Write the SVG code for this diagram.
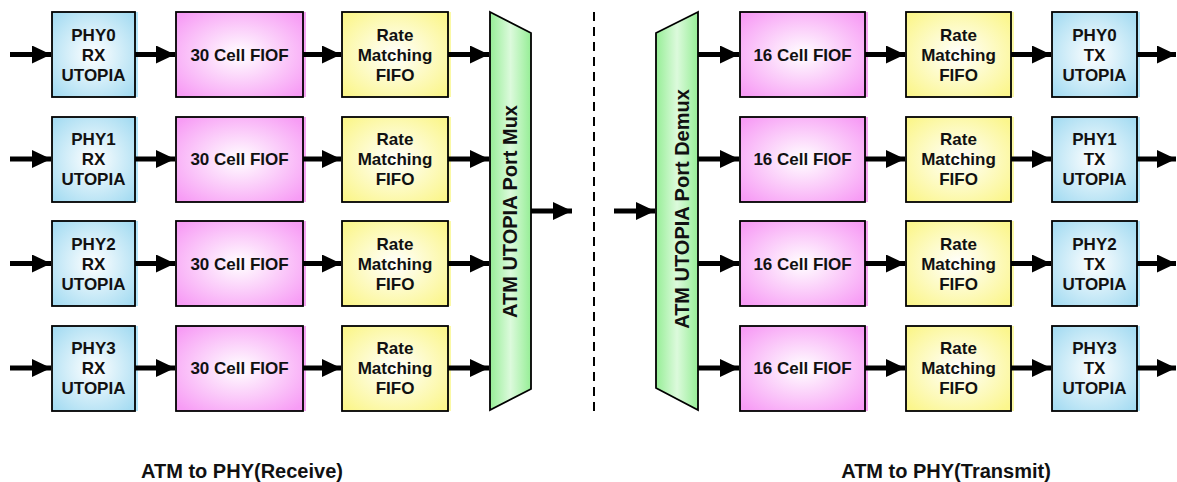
<svg xmlns="http://www.w3.org/2000/svg" width="1177" height="482" viewBox="0 0 1177 482">
<style>
  text { font-family: "Liberation Sans", Arial, sans-serif; font-weight: bold; fill: #111; }
  .bt { font-size: 17px; text-anchor: middle; }
  .tt { font-size: 20px; text-anchor: middle; }
  .box { stroke: #000; stroke-width: 1.8; }
  .blue { fill: url(#gBlue); }
  .pink { fill: url(#gPink); }
  .yel { fill: url(#gYel); }
  .sBlue { fill: #b5e6fb; }
  .sPink { fill: #f7a6f4; }
  .sYel { fill: #fbf9a6; }
  .mux { fill: url(#gGreen); stroke: #000; stroke-width: 1.8; }
  .conn { stroke: #000; stroke-width: 5; fill: none; marker-end: url(#ah); }
  .dash { stroke: #000; stroke-width: 2; stroke-dasharray: 9 6; fill: none; }
</style>
<defs>
  <radialGradient id="gBlue" cx="50%" cy="50%" r="65%">
    <stop offset="0" stop-color="#ffffff"/>
    <stop offset="1" stop-color="#a6dcf2"/>
  </radialGradient>
  <radialGradient id="gPink" cx="50%" cy="50%" r="65%">
    <stop offset="0" stop-color="#ffffff"/>
    <stop offset="1" stop-color="#f79cf5"/>
  </radialGradient>
  <radialGradient id="gYel" cx="50%" cy="50%" r="65%">
    <stop offset="0" stop-color="#ffffff"/>
    <stop offset="1" stop-color="#fbf68c"/>
  </radialGradient>
  <linearGradient id="gGreen" x1="0" y1="0" x2="1" y2="0">
    <stop offset="0" stop-color="#96ee96"/>
    <stop offset="0.5" stop-color="#dcfadc"/>
    <stop offset="1" stop-color="#96ee96"/>
  </linearGradient>
  <marker id="ah" markerUnits="userSpaceOnUse" markerWidth="20" markerHeight="18" refX="19" refY="9" orient="auto">
    <path d="M0,0 L19,9 L0,18 Z" fill="#000"/>
  </marker>
</defs>

<!-- Receive side -->
<g id="rx0-phy"><rect class="sBlue" x="55" y="12" width="83" height="85"/><rect class="box blue" x="52" y="12" width="83" height="85"/><text class="bt" x="93.5" y="40.5">PHY0</text><text class="bt" x="93.5" y="60.5">RX</text><text class="bt" x="93.5" y="80.5">UTOPIA</text></g>
<g id="rx0-fifo"><rect class="sPink" x="179" y="12" width="127" height="85"/><rect class="box pink" x="176" y="12" width="127" height="85"/><text class="bt" x="239.5" y="60.5">30 Cell FIOF</text></g>
<g id="rx0-rate"><rect class="sYel" x="345" y="12" width="106" height="85"/><rect class="box yel" x="342" y="12" width="106" height="85"/><text class="bt" x="395" y="40.5">Rate</text><text class="bt" x="395" y="60.5">Matching</text><text class="bt" x="395" y="80.5">FIFO</text></g>

<g id="rx1-phy"><rect class="sBlue" x="55" y="117" width="83" height="85"/><rect class="box blue" x="52" y="117" width="83" height="85"/><text class="bt" x="93.5" y="145">PHY1</text><text class="bt" x="93.5" y="165">RX</text><text class="bt" x="93.5" y="185">UTOPIA</text></g>
<g id="rx1-fifo"><rect class="sPink" x="179" y="117" width="127" height="85"/><rect class="box pink" x="176" y="117" width="127" height="85"/><text class="bt" x="239.5" y="165">30 Cell FIOF</text></g>
<g id="rx1-rate"><rect class="sYel" x="345" y="117" width="106" height="85"/><rect class="box yel" x="342" y="117" width="106" height="85"/><text class="bt" x="395" y="145">Rate</text><text class="bt" x="395" y="165">Matching</text><text class="bt" x="395" y="185">FIFO</text></g>

<g id="rx2-phy"><rect class="sBlue" x="55" y="221" width="83" height="85"/><rect class="box blue" x="52" y="221" width="83" height="85"/><text class="bt" x="93.5" y="249.5">PHY2</text><text class="bt" x="93.5" y="269.5">RX</text><text class="bt" x="93.5" y="289.5">UTOPIA</text></g>
<g id="rx2-fifo"><rect class="sPink" x="179" y="221" width="127" height="85"/><rect class="box pink" x="176" y="221" width="127" height="85"/><text class="bt" x="239.5" y="269.5">30 Cell FIOF</text></g>
<g id="rx2-rate"><rect class="sYel" x="345" y="221" width="106" height="85"/><rect class="box yel" x="342" y="221" width="106" height="85"/><text class="bt" x="395" y="249.5">Rate</text><text class="bt" x="395" y="269.5">Matching</text><text class="bt" x="395" y="289.5">FIFO</text></g>

<g id="rx3-phy"><rect class="sBlue" x="55" y="326" width="83" height="85"/><rect class="box blue" x="52" y="326" width="83" height="85"/><text class="bt" x="93.5" y="354">PHY3</text><text class="bt" x="93.5" y="374">RX</text><text class="bt" x="93.5" y="394">UTOPIA</text></g>
<g id="rx3-fifo"><rect class="sPink" x="179" y="326" width="127" height="85"/><rect class="box pink" x="176" y="326" width="127" height="85"/><text class="bt" x="239.5" y="374">30 Cell FIOF</text></g>
<g id="rx3-rate"><rect class="sYel" x="345" y="326" width="106" height="85"/><rect class="box yel" x="342" y="326" width="106" height="85"/><text class="bt" x="395" y="354">Rate</text><text class="bt" x="395" y="374">Matching</text><text class="bt" x="395" y="394">FIFO</text></g>

<g id="mux"><polygon class="mux" points="490,12 531,33 531,389 490,410"/><text class="tt" transform="translate(517,211.5) rotate(-90)" x="0" y="0">ATM UTOPIA Port Mux</text></g>

<!-- Transmit side -->
<g id="demux"><polygon class="mux" points="698,12 656,33 656,388 698,410"/><text class="tt" transform="translate(689,209) rotate(-90)" x="0" y="0">ATM UTOPIA Port Demux</text></g>

<g id="tx0-fifo"><rect class="sPink" x="743" y="12" width="125" height="85"/><rect class="box pink" x="740" y="12" width="125" height="85"/><text class="bt" x="802.5" y="60.5">16 Cell FIOF</text></g>
<g id="tx0-rate"><rect class="sYel" x="909" y="12" width="105" height="85"/><rect class="box yel" x="906" y="12" width="105" height="85"/><text class="bt" x="958.5" y="40.5">Rate</text><text class="bt" x="958.5" y="60.5">Matching</text><text class="bt" x="958.5" y="80.5">FIFO</text></g>
<g id="tx0-phy"><rect class="sBlue" x="1055" y="12" width="85" height="85"/><rect class="box blue" x="1052" y="12" width="85" height="85"/><text class="bt" x="1094.5" y="40.5">PHY0</text><text class="bt" x="1094.5" y="60.5">TX</text><text class="bt" x="1094.5" y="80.5">UTOPIA</text></g>

<g id="tx1-fifo"><rect class="sPink" x="743" y="117" width="125" height="85"/><rect class="box pink" x="740" y="117" width="125" height="85"/><text class="bt" x="802.5" y="165">16 Cell FIOF</text></g>
<g id="tx1-rate"><rect class="sYel" x="909" y="117" width="105" height="85"/><rect class="box yel" x="906" y="117" width="105" height="85"/><text class="bt" x="958.5" y="145">Rate</text><text class="bt" x="958.5" y="165">Matching</text><text class="bt" x="958.5" y="185">FIFO</text></g>
<g id="tx1-phy"><rect class="sBlue" x="1055" y="117" width="85" height="85"/><rect class="box blue" x="1052" y="117" width="85" height="85"/><text class="bt" x="1094.5" y="145">PHY1</text><text class="bt" x="1094.5" y="165">TX</text><text class="bt" x="1094.5" y="185">UTOPIA</text></g>

<g id="tx2-fifo"><rect class="sPink" x="743" y="221" width="125" height="85"/><rect class="box pink" x="740" y="221" width="125" height="85"/><text class="bt" x="802.5" y="269.5">16 Cell FIOF</text></g>
<g id="tx2-rate"><rect class="sYel" x="909" y="221" width="105" height="85"/><rect class="box yel" x="906" y="221" width="105" height="85"/><text class="bt" x="958.5" y="249.5">Rate</text><text class="bt" x="958.5" y="269.5">Matching</text><text class="bt" x="958.5" y="289.5">FIFO</text></g>
<g id="tx2-phy"><rect class="sBlue" x="1055" y="221" width="85" height="85"/><rect class="box blue" x="1052" y="221" width="85" height="85"/><text class="bt" x="1094.5" y="249.5">PHY2</text><text class="bt" x="1094.5" y="269.5">TX</text><text class="bt" x="1094.5" y="289.5">UTOPIA</text></g>

<g id="tx3-fifo"><rect class="sPink" x="743" y="326" width="125" height="85"/><rect class="box pink" x="740" y="326" width="125" height="85"/><text class="bt" x="802.5" y="374">16 Cell FIOF</text></g>
<g id="tx3-rate"><rect class="sYel" x="909" y="326" width="105" height="85"/><rect class="box yel" x="906" y="326" width="105" height="85"/><text class="bt" x="958.5" y="354">Rate</text><text class="bt" x="958.5" y="374">Matching</text><text class="bt" x="958.5" y="394">FIFO</text></g>
<g id="tx3-phy"><rect class="sBlue" x="1055" y="326" width="85" height="85"/><rect class="box blue" x="1052" y="326" width="85" height="85"/><text class="bt" x="1094.5" y="354">PHY3</text><text class="bt" x="1094.5" y="374">TX</text><text class="bt" x="1094.5" y="394">UTOPIA</text></g>

<g id="connectors">
  <path class="conn" d="M10,54.5 H51"/><path class="conn" d="M135,54.5 H175"/><path class="conn" d="M303,54.5 H341"/><path class="conn" d="M448,54.5 H489"/>
  <path class="conn" d="M10,159 H51"/><path class="conn" d="M135,159 H175"/><path class="conn" d="M303,159 H341"/><path class="conn" d="M448,159 H489"/>
  <path class="conn" d="M10,263.5 H51"/><path class="conn" d="M135,263.5 H175"/><path class="conn" d="M303,263.5 H341"/><path class="conn" d="M448,263.5 H489"/>
  <path class="conn" d="M10,368 H51"/><path class="conn" d="M135,368 H175"/><path class="conn" d="M303,368 H341"/><path class="conn" d="M448,368 H489"/>
  <path class="conn" d="M531,211 H572"/>
  <path class="conn" d="M614,211 H655"/>
  <path class="conn" d="M698,54.5 H739"/><path class="conn" d="M865,54.5 H905"/><path class="conn" d="M1011,54.5 H1051"/><path class="conn" d="M1137,54.5 H1176"/>
  <path class="conn" d="M698,159 H739"/><path class="conn" d="M865,159 H905"/><path class="conn" d="M1011,159 H1051"/><path class="conn" d="M1137,159 H1176"/>
  <path class="conn" d="M698,263.5 H739"/><path class="conn" d="M865,263.5 H905"/><path class="conn" d="M1011,263.5 H1051"/><path class="conn" d="M1137,263.5 H1176"/>
  <path class="conn" d="M698,368 H739"/><path class="conn" d="M865,368 H905"/><path class="conn" d="M1011,368 H1051"/><path class="conn" d="M1137,368 H1176"/>
</g>

<path class="dash" d="M594,12 V412"/>

<text class="tt" x="242" y="478">ATM to PHY(Receive)</text>
<text class="tt" x="946" y="478">ATM to PHY(Transmit)</text>
</svg>
